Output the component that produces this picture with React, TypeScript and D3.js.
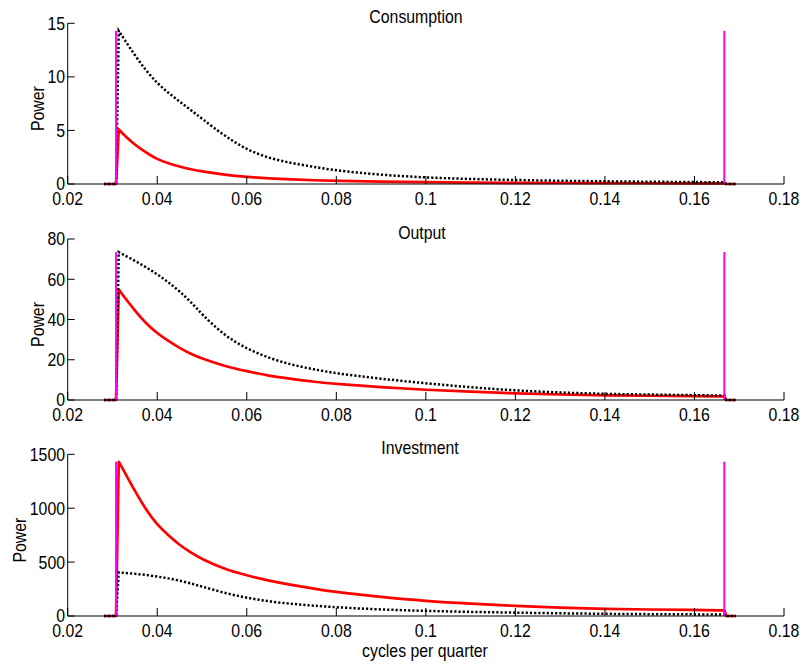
import React from "react";
import * as d3 from "d3";

// ---- data ----
const freq = [0.0281, 0.0308, 0.0314, 0.0325, 0.035, 0.0375, 0.04, 0.0425, 0.045, 0.0475, 0.05, 0.055, 0.06, 0.065, 0.07, 0.075, 0.08, 0.09, 0.1, 0.11, 0.12, 0.13, 0.14, 0.15, 0.16, 0.1667, 0.1671, 0.1693];

const consumptionRed = [0, 0, 5.1, 4.6, 3.65, 2.95, 2.3, 1.93, 1.62, 1.37, 1.17, 0.86, 0.65, 0.52, 0.42, 0.35, 0.29, 0.22, 0.17, 0.13, 0.11, 0.09, 0.08, 0.07, 0.06, 0.06, 0, 0];
const consumptionDot = [0, 0, 14.3, 13.6, 12.0, 10.6, 9.4, 8.5, 7.7, 6.9, 6.1, 4.5, 3.2, 2.4, 1.95, 1.6, 1.25, 0.85, 0.6, 0.46, 0.37, 0.3, 0.25, 0.21, 0.18, 0.16, 0, 0];

const outputRed = [0, 0, 55, 51.5, 44.5, 38.0, 33.1, 29.3, 25.8, 22.9, 20.6, 16.8, 14.3, 12.0, 10.5, 9.0, 8.0, 6.4, 5.0, 4.1, 3.3, 2.7, 2.3, 2.1, 1.9, 1.8, 0, 0];
const outputDot = [0, 0, 73.5, 72.2, 69.2, 66.0, 62.5, 58.5, 54.0, 48.8, 42.5, 32.0, 25.5, 20.8, 17.5, 15.2, 13.2, 10.5, 8.3, 6.3, 4.7, 3.7, 3.0, 2.7, 2.4, 2.2, 0, 0];

const investmentRed = [0, 0, 1431, 1351, 1160, 985, 844, 747, 657, 588, 527, 435, 376, 327, 288, 254, 220, 176, 139, 114, 93, 78, 65, 60, 56, 52, 0, 0];
const investmentDot = [0, 0, 405, 400, 392, 381, 366, 350, 328, 302, 273, 214, 168, 135, 112, 96, 80, 60, 47, 38, 31, 25, 20, 17, 15, 14, 0, 0];

const bandEdges = [0.0308, 1 / 6];

const xTicks = [0.02, 0.04, 0.06, 0.08, 0.1, 0.12, 0.14, 0.16, 0.18];
const xTickLabels = ["0.02", "0.04", "0.06", "0.08", "0.1", "0.12", "0.14", "0.16", "0.18"];

const panelTitles = ["Consumption", "Output", "Investment"];
const yTicksC = [0, 5, 10, 15];
const yTicksO = [0, 20, 40, 60, 80];
const yTicksI = [0, 500, 1000, 1500];

const yLabel = "Power";
const xLabel = "cycles per quarter";

// ---- layout ----
const W = 806;
const H = 667;
const X0 = 67.7;
const X1 = 784;
const FONT = "'Liberation Sans', Arial, Helvetica, sans-serif";
const FS = 18;
const SX = 0.88;

const panels = [
  { title: panelTitles[0], red: consumptionRed, dot: consumptionDot, ticks: yTicksC, bottom: 184, top: 23.3, tx: 416 },
  { title: panelTitles[1], red: outputRed, dot: outputDot, ticks: yTicksO, bottom: 400, top: 239, tx: 422 },
  { title: panelTitles[2], red: investmentRed, dot: investmentDot, ticks: yTicksI, bottom: 616, top: 454.3, tx: 420 },
];

const x = d3.scaleLinear().domain([0.02, 0.18]).range([X0, X1]);

function Txt({ x: tx, y: ty, rotate = 0, anchor = "middle", dy = "0", children }: any) {
  return (
    <text
      transform={`translate(${tx},${ty}) rotate(${rotate}) scale(${SX},1)`}
      textAnchor={anchor}
      dy={dy}
      fontFamily={FONT}
      fontSize={FS}
      fill="#000"
    >
      {children}
    </text>
  );
}

// linear jumps at the band edges, smooth spectrum inside the band
function spectrumPath(vals: number[], y: d3.ScaleLinear<number, number>) {
  const pts: [number, number][] = vals.map((v, i) => [x(freq[i]), y(v)]);
  const n = pts.length;
  const lin = d3.line().curve(d3.curveLinear);
  const smooth = d3.line().curve(d3.curveBasis);
  const head = lin(pts.slice(0, 3))!;
  const mid = smooth(pts.slice(2, n - 2))!.replace(/^M/, "L");
  const tail = lin(pts.slice(n - 3))!.replace(/^M/, "L");
  return head + mid + tail;
}

function Panel({ p }: any) {
  const ymax = p.ticks[p.ticks.length - 1];
  const y = d3.scaleLinear().domain([0, ymax]).range([p.bottom, p.top]);
  const peak = Math.max(d3.max(p.red as number[])!, d3.max(p.dot as number[])!);
  const maxLabelW = d3.max(p.ticks as number[], (t) => String(t).length * 0.556 * FS * SX)!;
  const ylabX = 65 - maxLabelW - 3.5;
  return (
    <g>
      <path d={spectrumPath(p.red, y)} fill="none" stroke="#ff0000" strokeWidth={2.7} strokeLinejoin="round" />
      <path d={spectrumPath(p.dot, y)} fill="none" stroke="#000" strokeWidth={2.5} strokeDasharray="2.2 2" />
      {bandEdges.map((b, i) => (
        <line key={i} x1={x(b)} x2={x(b)} y1={y(0)} y2={y(peak)} stroke="#ff00ff" strokeWidth={2} />
      ))}
      <line x1={X0} x2={X1} y1={p.bottom} y2={p.bottom} stroke="#000" strokeWidth={1} />
      <line x1={X0} x2={X0} y1={p.bottom} y2={p.top} stroke="#000" strokeWidth={1} />
      {xTicks.map((t, i) => (
        <g key={i}>
          <line x1={x(t)} x2={x(t)} y1={p.bottom} y2={p.bottom - 8} stroke="#000" strokeWidth={1} />
          <Txt x={x(t)} y={p.bottom + 20.5}>{xTickLabels[i]}</Txt>
        </g>
      ))}
      {p.ticks.map((t: number, i: number) => (
        <g key={i}>
          <line x1={X0} x2={X0 + 7} y1={y(t)} y2={y(t)} stroke="#000" strokeWidth={1} />
          <Txt x={65} y={y(t)} anchor="end" dy="0.36em">{String(t)}</Txt>
        </g>
      ))}
      <Txt x={p.tx} y={p.top - 0.5}>{p.title}</Txt>
      <Txt x={ylabX} y={(p.top + p.bottom) / 2 + 5} rotate={-90}>{yLabel}</Txt>
    </g>
  );
}

export default function App() {
  return (
    <svg
      width={W}
      height={H}
      viewBox={`0 0 ${W} ${H}`}
      style={{ position: "absolute", left: 0, top: 0, background: "#fff" }}
    >
      <rect width={W} height={H} fill="#fff" />
      {panels.map((p, i) => (
        <Panel key={i} p={p} />
      ))}
      <Txt x={425} y={656.5}>{xLabel}</Txt>
    </svg>
  );
}
